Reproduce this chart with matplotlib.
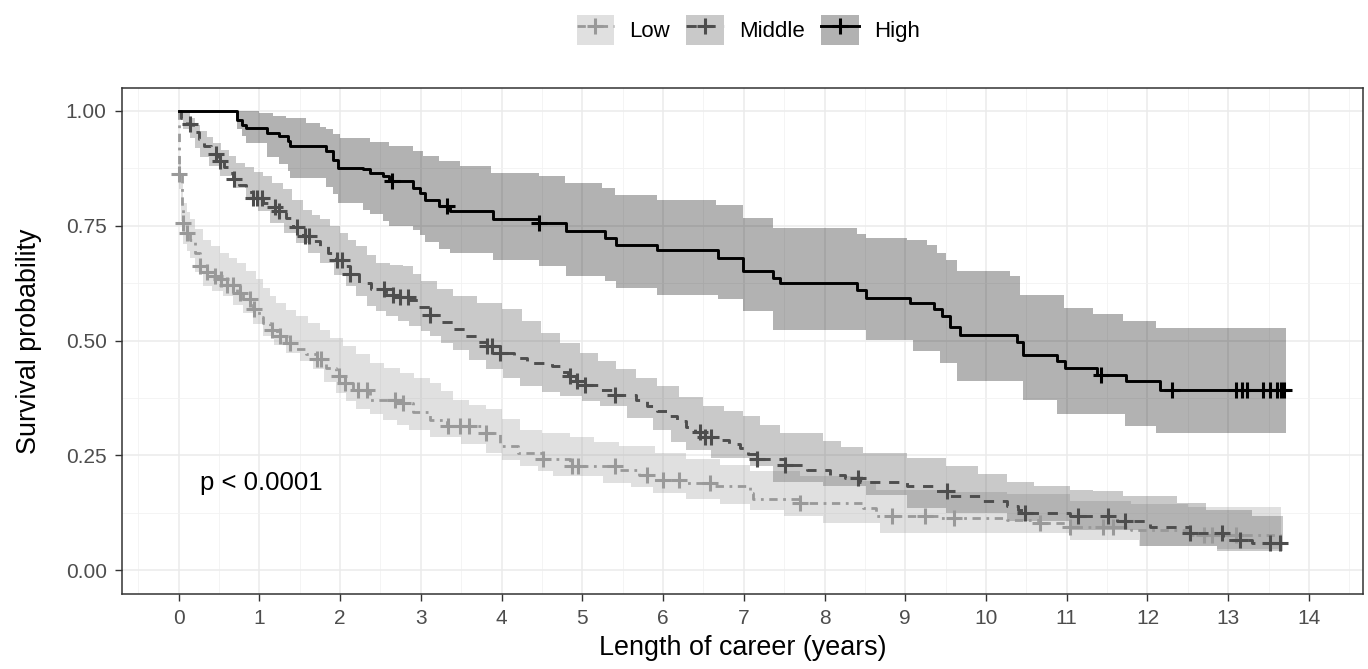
import numpy as np
import matplotlib
matplotlib.use("Agg")
import matplotlib.pyplot as plt
from matplotlib.patches import Patch
from matplotlib.lines import Line2D
from matplotlib.ticker import MultipleLocator

plt.rcParams['font.family'] = ['Liberation Sans', 'DejaVu Sans']

# ---- data (Kaplan-Meier steps, years / survival) ----
groups = ["Low", "Middle", "High"]

low_t = [0.00, 0.01, 0.04, 0.05, 0.10, 0.14, 0.20, 0.26, 0.35, 0.45, 0.51, 0.60, 0.72, 0.80, 0.92,
         1.00, 1.05, 1.13, 1.22, 1.33, 1.45, 1.58, 1.71, 1.82, 1.95, 2.05, 2.16, 2.37, 2.70, 2.90,
         3.11, 3.32, 3.81, 3.98, 4.20, 4.51, 4.85, 5.46, 5.70, 5.88, 6.29, 6.62, 7.08, 7.12, 7.70,
         8.48, 8.64, 9.43, 10.26, 10.67, 11.04, 11.80, 12.53]
low_s = [1.000, 0.862, 0.790, 0.756, 0.735, 0.720, 0.690, 0.662, 0.650, 0.640, 0.633, 0.620, 0.604, 0.590, 0.568,
         0.552, 0.538, 0.524, 0.510, 0.495, 0.482, 0.470, 0.459, 0.440, 0.422, 0.408, 0.393, 0.371, 0.364, 0.345,
         0.328, 0.313, 0.299, 0.270, 0.255, 0.241, 0.226, 0.219, 0.208, 0.197, 0.190, 0.183, 0.168, 0.154, 0.146,
         0.136, 0.117, 0.114, 0.110, 0.103, 0.095, 0.088, 0.077]
low_up_t = [0.00, 0.01, 0.03, 0.05, 0.10, 0.14, 0.20, 0.30, 0.40, 0.51, 0.62, 0.72, 0.84, 0.96, 1.05,
            1.13, 1.21, 1.33, 1.46, 1.60, 1.75, 1.88, 2.04, 2.20, 2.37, 2.55, 2.74, 2.92, 3.11, 3.25,
            3.40, 3.60, 3.81, 4.00, 4.23, 4.50, 4.85, 5.15, 5.46, 5.90, 6.29, 6.70, 7.08, 7.70, 8.48,
            8.64, 9.40, 10.26, 11.04, 11.80, 12.50]
low_up = [1.000, 0.900, 0.840, 0.800, 0.780, 0.765, 0.742, 0.720, 0.705, 0.691, 0.680, 0.669, 0.651, 0.633, 0.615,
          0.598, 0.582, 0.567, 0.553, 0.538, 0.524, 0.505, 0.488, 0.470, 0.451, 0.440, 0.430, 0.419, 0.408, 0.390,
          0.371, 0.360, 0.350, 0.330, 0.306, 0.298, 0.291, 0.280, 0.270, 0.255, 0.241, 0.228, 0.215, 0.205, 0.195,
          0.175, 0.170, 0.165, 0.150, 0.145, 0.138]
low_lo_t = [0.00, 0.01, 0.03, 0.05, 0.10, 0.14, 0.20, 0.30, 0.42, 0.55, 0.68, 0.80, 0.92, 1.04, 1.18,
            1.33, 1.50, 1.66, 1.80, 1.95, 2.08, 2.20, 2.37, 2.53, 2.70, 2.86, 3.11, 3.50, 3.81, 4.00,
            4.23, 4.45, 4.64, 5.26, 5.60, 5.88, 6.29, 6.70, 7.08, 7.50, 7.98, 8.69, 11.04, 11.90, 12.86]
low_lo = [1.000, 0.830, 0.760, 0.710, 0.695, 0.680, 0.650, 0.618, 0.608, 0.597, 0.578, 0.560, 0.535, 0.509, 0.490,
          0.473, 0.455, 0.437, 0.410, 0.386, 0.368, 0.350, 0.339, 0.328, 0.317, 0.306, 0.291, 0.275, 0.255, 0.240,
          0.226, 0.215, 0.204, 0.190, 0.180, 0.168, 0.154, 0.143, 0.132, 0.118, 0.103, 0.081, 0.066, 0.052, 0.045]
low_cens = [0.01, 0.05, 0.11, 0.26, 0.35, 0.45, 0.53, 0.60, 0.67, 0.76, 0.88, 0.94, 1.16, 1.26, 1.38, 1.72,
            1.77, 1.99, 2.06, 2.22, 2.34, 2.68, 2.78, 3.34, 3.48, 3.60, 3.81, 4.51, 4.87, 4.95, 5.40, 5.80,
            6.00, 6.20, 6.58, 7.70, 8.83, 9.24, 9.60, 10.67, 11.04, 11.45, 11.57, 12.70, 12.80, 13.10]
low_end = 13.65

mid_t = [0.00, 0.03, 0.10, 0.18, 0.25, 0.32, 0.40, 0.49, 0.56, 0.62, 0.67, 0.75, 0.83, 0.92, 1.05,
         1.15, 1.25, 1.33, 1.42, 1.54, 1.65, 1.75, 1.85, 1.95, 2.04, 2.12, 2.24, 2.38, 2.57, 2.70,
         2.86, 2.98, 3.11, 3.25, 3.40, 3.55, 3.70, 3.82, 3.98, 4.15, 4.31, 4.62, 4.72, 4.82, 4.92,
         5.01, 5.20, 5.38, 5.67, 5.80, 5.92, 6.05, 6.17, 6.28, 6.40, 6.50, 6.70, 6.82, 6.95, 7.05,
         7.16, 7.51, 7.78, 8.07, 8.25, 8.44, 9.02, 9.35, 9.53, 9.93, 10.26, 10.40, 10.46, 11.04, 11.62,
         12.03, 12.53, 12.94, 13.30]
mid_s = [1.000, 0.985, 0.971, 0.955, 0.938, 0.923, 0.907, 0.891, 0.877, 0.864, 0.851, 0.838, 0.824, 0.811, 0.800,
         0.790, 0.782, 0.766, 0.748, 0.727, 0.716, 0.705, 0.690, 0.676, 0.662, 0.645, 0.626, 0.612, 0.600, 0.594,
         0.589, 0.572, 0.555, 0.540, 0.525, 0.510, 0.497, 0.487, 0.473, 0.462, 0.451, 0.444, 0.432, 0.422, 0.412,
         0.404, 0.393, 0.382, 0.371, 0.358, 0.346, 0.335, 0.324, 0.312, 0.300, 0.291, 0.284, 0.275, 0.266, 0.253,
         0.241, 0.230, 0.219, 0.208, 0.200, 0.193, 0.183, 0.172, 0.161, 0.150, 0.139, 0.130, 0.125, 0.117, 0.106,
         0.095, 0.081, 0.066, 0.059]
mid_up_t = [0.00, 0.05, 0.14, 0.20, 0.26, 0.35, 0.43, 0.52, 0.62, 0.71, 0.82, 0.93, 1.04, 1.16, 1.29,
            1.40, 1.54, 1.65, 1.75, 1.88, 2.00, 2.10, 2.20, 2.33, 2.45, 2.62, 2.78, 2.90, 3.00, 3.20,
            3.40, 3.70, 4.00, 4.25, 4.49, 4.73, 4.97, 5.20, 5.42, 5.67, 5.92, 6.20, 6.50, 6.75, 6.99,
            7.20, 7.45, 7.98, 8.20, 8.48, 9.02, 9.51, 9.90, 10.26, 10.60, 11.04, 11.33, 11.70, 12.36, 12.73,
            13.30]
mid_up = [1.000, 0.995, 0.985, 0.970, 0.956, 0.943, 0.931, 0.916, 0.901, 0.887, 0.877, 0.867, 0.858, 0.843, 0.829,
          0.807, 0.785, 0.774, 0.764, 0.750, 0.735, 0.720, 0.705, 0.687, 0.669, 0.665, 0.662, 0.645, 0.629, 0.613,
          0.597, 0.582, 0.568, 0.542, 0.517, 0.495, 0.473, 0.455, 0.437, 0.418, 0.400, 0.378, 0.357, 0.346, 0.335,
          0.317, 0.299, 0.281, 0.268, 0.255, 0.244, 0.226, 0.210, 0.193, 0.184, 0.175, 0.172, 0.161, 0.146, 0.132,
          0.117]
mid_lo_t = [0.00, 0.05, 0.14, 0.20, 0.26, 0.38, 0.51, 0.68, 0.84, 0.98, 1.13, 1.30, 1.46, 1.60, 1.75,
            1.92, 2.08, 2.20, 2.33, 2.45, 2.57, 2.72, 2.86, 3.00, 3.11, 3.25, 3.40, 3.60, 3.81, 4.02,
            4.23, 4.50, 4.72, 5.00, 5.22, 5.55, 5.88, 6.10, 6.29, 6.60, 7.08, 7.36, 7.98, 8.52, 9.02,
            9.51, 10.26, 11.04, 11.91, 12.86]
mid_lo = [1.000, 0.960, 0.940, 0.920, 0.900, 0.879, 0.858, 0.832, 0.807, 0.781, 0.756, 0.734, 0.713, 0.691, 0.669,
          0.643, 0.618, 0.597, 0.575, 0.564, 0.553, 0.542, 0.531, 0.520, 0.509, 0.495, 0.480, 0.458, 0.437, 0.418,
          0.400, 0.389, 0.379, 0.368, 0.357, 0.331, 0.306, 0.280, 0.262, 0.245, 0.226, 0.193, 0.183, 0.164, 0.136,
          0.125, 0.106, 0.088, 0.052, 0.041]
mid_cens = [0.14, 0.47, 0.51, 0.69, 0.92, 0.97, 1.03, 1.19, 1.25, 1.47, 1.56, 1.62, 1.96, 2.03, 2.12, 2.55,
            2.65, 2.74, 2.84, 3.11, 3.82, 3.88, 3.98, 4.85, 4.94, 5.03, 5.40, 6.46, 6.52, 6.60, 7.16, 7.51,
            8.41, 9.52, 10.48, 11.14, 11.51, 11.72, 12.53, 12.92, 13.15, 13.52, 13.64]
mid_end = 13.68

high_t = [0.00, 0.72, 0.78, 0.84, 1.09, 1.25, 1.36, 1.38, 1.83, 1.91, 1.98, 2.28, 2.37, 2.53, 2.61,
          2.90, 2.99, 3.05, 3.23, 3.36, 3.89, 4.47, 4.80, 5.28, 5.42, 5.92, 6.68, 6.99, 7.36, 7.45,
          8.40, 8.52, 9.06, 9.35, 9.45, 9.55, 9.68, 10.38, 10.46, 10.88, 10.98, 11.37, 11.74, 12.16]
high_s = [1.000, 0.981, 0.970, 0.963, 0.952, 0.945, 0.934, 0.923, 0.912, 0.894, 0.876, 0.873, 0.865, 0.858, 0.847,
          0.833, 0.822, 0.807, 0.793, 0.782, 0.764, 0.755, 0.738, 0.724, 0.709, 0.698, 0.680, 0.651, 0.637, 0.626,
          0.611, 0.593, 0.582, 0.568, 0.553, 0.530, 0.511, 0.497, 0.468, 0.455, 0.440, 0.426, 0.411, 0.393]
high_up_t = [0.00, 1.00, 1.17, 1.33, 1.58, 1.75, 1.83, 1.91, 2.00, 2.37, 2.61, 2.90, 3.03, 3.23, 3.48,
             3.87, 4.47, 4.78, 5.24, 5.40, 5.92, 6.66, 6.99, 7.36, 8.40, 8.52, 9.02, 9.27, 9.39, 9.51,
             9.64, 10.30, 10.42, 10.96, 11.33, 11.70, 12.11]
high_up = [1.000, 0.996, 0.989, 0.985, 0.974, 0.965, 0.960, 0.949, 0.940, 0.932, 0.923, 0.912, 0.902, 0.890, 0.880,
           0.865, 0.858, 0.844, 0.833, 0.818, 0.807, 0.796, 0.767, 0.746, 0.731, 0.724, 0.720, 0.709, 0.691, 0.676,
           0.651, 0.640, 0.600, 0.571, 0.557, 0.542, 0.528]
high_lo_t = [0.00, 0.72, 0.78, 0.84, 1.09, 1.25, 1.36, 1.38, 1.83, 1.91, 1.98, 2.28, 2.37, 2.53, 2.61,
             2.90, 2.99, 3.05, 3.23, 3.36, 3.89, 4.47, 4.80, 5.28, 5.42, 5.92, 6.68, 6.99, 7.36, 8.52,
             9.10, 9.43, 9.64, 10.46, 10.88, 11.72, 12.11]
high_lo = [1.000, 0.960, 0.945, 0.930, 0.900, 0.885, 0.869, 0.855, 0.835, 0.820, 0.800, 0.785, 0.775, 0.760, 0.749,
           0.740, 0.730, 0.715, 0.700, 0.690, 0.676, 0.662, 0.640, 0.629, 0.615, 0.600, 0.590, 0.565, 0.524, 0.502,
           0.477, 0.451, 0.411, 0.371, 0.339, 0.313, 0.299]
high_cens = [2.64, 3.32, 4.47, 11.43, 12.30, 13.10, 13.17, 13.23, 13.43, 13.52, 13.61, 13.65, 13.69]
high_end = 13.72

p_text = "p < 0.0001"


def step_at(ts, vs, grid):
    # value of a right-continuous step function at the grid points
    idx = np.searchsorted(ts, grid, side='right') - 1
    return np.asarray(vs)[np.clip(idx, 0, None)]


series = [
    dict(t=low_t, s=low_s, ut=low_up_t, u=low_up, lt=low_lo_t, l=low_lo, c=low_cens, end=low_end,
         color='#999999', ls=(0, (3, 2, 1, 2)), lw=2.0),
    dict(t=mid_t, s=mid_s, ut=mid_up_t, u=mid_up, lt=mid_lo_t, l=mid_lo, c=mid_cens, end=mid_end,
         color='#4D4D4D', ls=(0, (3.5, 3)), lw=2.1),
    dict(t=high_t, s=high_s, ut=high_up_t, u=high_up, lt=high_lo_t, l=high_lo, c=high_cens, end=high_end,
         color='#000000', ls='-', lw=2.1),
]

fig = plt.figure(figsize=(13.68, 6.69), dpi=100)
ax = fig.add_axes([0.0892, 0.1121, 0.9072, 0.7564])

# confidence bands
for g in series:
    grid = np.unique(np.concatenate([g['ut'], g['lt'], [g['end']]]))
    up = step_at(g['ut'], g['u'], grid)
    lo = step_at(g['lt'], g['l'], grid)
    ax.fill_between(grid, lo, up, step='post', color=g['color'], alpha=0.3, linewidth=0)

# survival curves + censor marks
for g in series:
    tt = np.append(g['t'], g['end'])
    ss = np.append(g['s'], g['s'][-1])
    ax.step(tt, ss, where='post', color=g['color'], linestyle=g['ls'], linewidth=g['lw'])
    cy = step_at(g['t'], g['s'], np.asarray(g['c']))
    ax.plot(g['c'], cy, linestyle='none', marker='+', markersize=11, markeredgewidth=2.2,
            color=g['color'])

ax.text(0.26, 0.19, p_text, fontsize=18.5, ha='left', va='center', color='black')

ax.set_xlim(-0.70, 14.67)
ax.set_ylim(-0.052, 1.05)
ax.set_xticks(range(0, 15))
ax.set_yticks([0, 0.25, 0.5, 0.75, 1.0])
ax.set_yticklabels(["0.00", "0.25", "0.50", "0.75", "1.00"])
ax.xaxis.set_minor_locator(MultipleLocator(0.5))
ax.yaxis.set_minor_locator(MultipleLocator(0.125))
ax.grid(which='major', color='#EBEBEB', linewidth=1.1)
ax.grid(which='minor', color='#F2F2F2', linewidth=0.6)
ax.set_axisbelow(True)
ax.tick_params(which='major', length=5, width=1.0, color='#333333', labelsize=15,
               labelcolor='#4D4D4D', pad=6)
ax.tick_params(which='minor', length=0)
for sp in ax.spines.values():
    sp.set_color('#333333')
    sp.set_linewidth(1.1)

ax.set_xlabel("Length of career (years)", fontsize=19.4, labelpad=5)
ax.set_ylabel("Survival probability", fontsize=19.4, labelpad=17)

# legend on top
handles = []
for g in series:
    box = Patch(facecolor=g['color'], alpha=0.3, edgecolor='none')
    ln = Line2D([], [], color=g['color'], linestyle=g['ls'], linewidth=g['lw'], marker='+',
                markersize=11, markeredgewidth=2.2)
    handles.append((box, ln))
fig.legend(handles, groups, loc='center', bbox_to_anchor=(0.547, 0.955), ncol=3, frameon=False,
           fontsize=16, handlelength=1.7, handleheight=1.7, handletextpad=0.68, columnspacing=0.73)

fig.savefig("out.png", dpi=100)
